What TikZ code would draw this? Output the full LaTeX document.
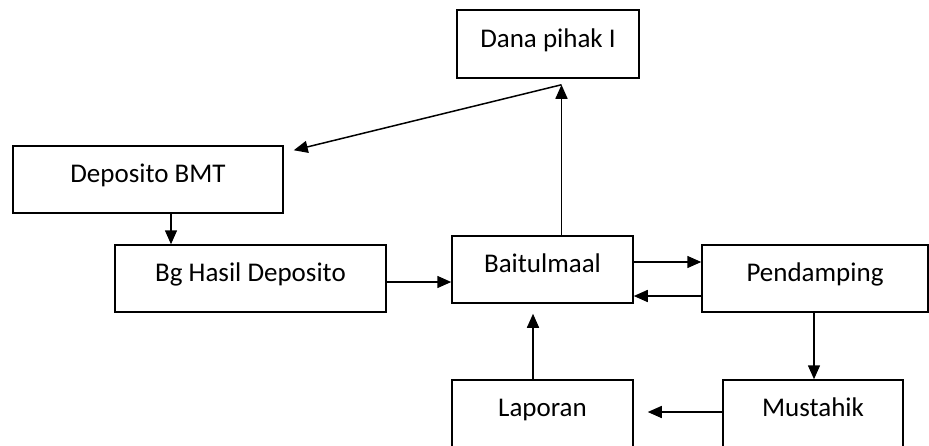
\documentclass[tikz,border=0pt]{standalone}
\usepackage{fontspec}
\setmainfont{Carlito}
\usetikzlibrary{arrows.meta}
\begin{document}
\begin{tikzpicture}[x=1pt,y=-1pt,
  box/.style={draw, line width=1.5pt, inner sep=0pt, text height=20pt, text depth=14pt,
    minimum height=67pt, font=\fontsize{27}{32}\selectfont},
  arr/.style={line width=1.5pt, -{Triangle[length=14pt,width=12pt]}}]
\useasboundingbox (0,0) rectangle (929,445);
\clip (0,0) rectangle (929,445);
\node[box, minimum width=182pt, minimum height=68pt] (dana) at (548,44) {Dana pihak I};
\node[box, minimum width=270pt] (dep) at (148,179.5) {Deposito BMT};
\node[box, minimum width=271pt] (bg) at (250.5,278.5) {Bg Hasil Deposito};
\node[box, minimum width=181pt] (bm) at (542.5,269.5) {Baitulmaal};
\node[box, minimum width=226pt] (pd) at (815,278.5) {Pendamping};
\node[box, minimum width=181pt] (la) at (542.5,413.5) {Laporan};
\node[box, minimum width=180pt] (mu) at (813,413.5) {Mustahik};
% connectors
\draw[arr] ([xshift=23pt]dep.south) coordinate (c1) -- (c1 |- bg.north);
\draw[arr] ([yshift=-3.5pt]bg.east) coordinate (c2) -- (c2 -| bm.west);
\draw[arr] ([yshift=7.5pt]bm.east) coordinate (c3) -- (c3 -| pd.west);
\draw[arr] ([yshift=-17.5pt]pd.west) coordinate (c4) -- (c4 -| bm.east);
\draw[arr] ([xshift=-1pt]pd.south) coordinate (c5) -- (c5 |- mu.north);
\draw[arr] ([yshift=1.5pt]mu.west) coordinate (c6) -- ([xshift=14pt]c6 -| la.east);
\draw[arr] ([xshift=-9.5pt]la.north) coordinate (c7) -- ([yshift=-10pt]c7 |- bm.south);
\draw[arr] ([xshift=19pt]bm.north) coordinate (c8) -- ([yshift=-6pt]c8 |- dana.south) coordinate (c9);
\draw[arr] (c9) -- ([xshift=10pt,yshift=-5pt]dep.north east);
\end{tikzpicture}
\end{document}
